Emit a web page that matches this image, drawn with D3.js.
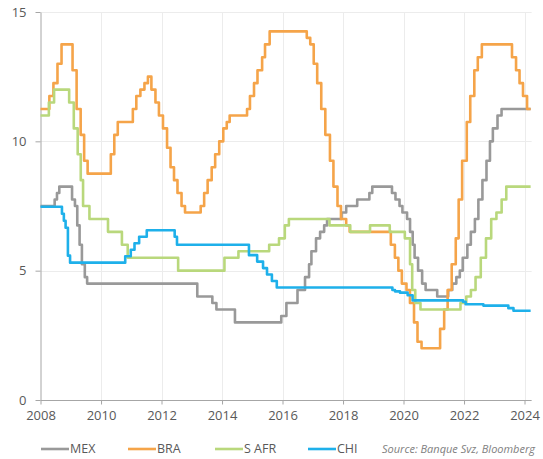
<!DOCTYPE html>
<html>
<head>
<meta charset="utf-8">
<script src="https://cdn.jsdelivr.net/npm/d3@7"></script>
<style>
  body { margin: 0; background: #fff; }
  text { font-family: "Open Sans", sans-serif; }
</style>
</head>
<body>
<svg id="chart" width="543" height="459"></svg>
<script>
const seriesNames = ["MEX", "BRA", "S AFR", "CHI"];
const seriesColors = ["#999999", "#f5a449", "#b9d87c", "#1eb0ea"];
const endDate = "2024-03-15";

const mex = [
  ["2008-01-01", 7.5], ["2008-06-20", 7.75], ["2008-07-18", 8.0], ["2008-08-15", 8.25],
  ["2009-01-16", 7.75], ["2009-02-20", 7.5], ["2009-03-20", 6.75], ["2009-04-17", 6.0],
  ["2009-05-15", 5.25], ["2009-06-19", 4.75], ["2009-07-17", 4.5], ["2013-03-08", 4.0],
  ["2013-09-06", 3.75], ["2013-10-25", 3.5], ["2014-06-06", 3.0], ["2015-12-17", 3.25],
  ["2016-02-17", 3.75], ["2016-06-30", 4.25], ["2016-09-29", 4.75], ["2016-11-17", 5.25],
  ["2016-12-15", 5.75], ["2017-02-09", 6.25], ["2017-03-30", 6.5], ["2017-05-18", 6.75],
  ["2017-06-22", 7.0], ["2017-12-14", 7.25], ["2018-02-08", 7.5], ["2018-06-21", 7.75],
  ["2018-11-15", 8.0], ["2018-12-20", 8.25], ["2019-08-15", 8.0], ["2019-09-26", 7.75],
  ["2019-11-14", 7.5], ["2019-12-19", 7.25], ["2020-02-13", 7.0], ["2020-03-20", 6.5],
  ["2020-04-21", 6.0], ["2020-05-14", 5.5], ["2020-06-25", 5.0], ["2020-08-13", 4.5],
  ["2020-09-24", 4.25], ["2021-02-11", 4.0], ["2021-06-24", 4.25], ["2021-08-12", 4.5],
  ["2021-09-30", 4.75], ["2021-11-11", 5.0], ["2021-12-16", 5.5], ["2022-02-10", 6.0],
  ["2022-03-24", 6.5], ["2022-05-12", 7.0], ["2022-06-23", 7.75], ["2022-08-11", 8.5],
  ["2022-09-29", 9.25], ["2022-11-10", 10.0], ["2022-12-15", 10.5], ["2023-02-09", 11.0],
  ["2023-03-30", 11.25]
];

const bra = [
  ["2008-01-01", 11.25], ["2008-04-17", 11.75], ["2008-06-05", 12.25], ["2008-07-24", 13.0],
  ["2008-09-11", 13.75], ["2009-01-22", 12.75], ["2009-03-12", 11.25], ["2009-04-30", 10.25],
  ["2009-06-11", 9.25], ["2009-07-23", 8.75], ["2010-04-29", 9.5], ["2010-06-10", 10.25],
  ["2010-07-22", 10.75], ["2011-01-20", 11.25], ["2011-03-03", 11.75], ["2011-04-21", 12.0],
  ["2011-06-09", 12.25], ["2011-07-21", 12.5], ["2011-09-01", 12.0], ["2011-10-20", 11.5],
  ["2011-12-01", 11.0], ["2012-01-19", 10.5], ["2012-03-08", 9.75], ["2012-04-19", 9.0],
  ["2012-05-31", 8.5], ["2012-07-12", 8.0], ["2012-08-30", 7.5], ["2012-10-11", 7.25],
  ["2013-04-18", 7.5], ["2013-05-30", 8.0], ["2013-07-11", 8.5], ["2013-08-29", 9.0],
  ["2013-10-10", 9.5], ["2013-11-28", 10.0], ["2014-01-16", 10.5], ["2014-02-27", 10.75],
  ["2014-04-03", 11.0], ["2014-10-30", 11.25], ["2014-12-04", 11.75], ["2015-01-22", 12.25],
  ["2015-03-05", 12.75], ["2015-04-30", 13.25], ["2015-06-04", 13.75], ["2015-07-30", 14.25],
  ["2016-10-20", 14.0], ["2016-12-01", 13.75], ["2017-01-12", 13.0], ["2017-02-23", 12.25],
  ["2017-04-13", 11.25], ["2017-06-01", 10.25], ["2017-07-27", 9.25], ["2017-09-07", 8.25],
  ["2017-10-26", 7.5], ["2017-12-07", 7.0], ["2018-02-08", 6.75], ["2018-03-22", 6.5],
  ["2019-08-01", 6.0], ["2019-09-19", 5.5], ["2019-10-31", 5.0], ["2019-12-12", 4.5],
  ["2020-02-06", 4.25], ["2020-03-19", 3.75], ["2020-05-07", 3.0], ["2020-06-18", 2.25],
  ["2020-08-06", 2.0], ["2021-03-18", 2.75], ["2021-05-06", 3.5], ["2021-06-17", 4.25],
  ["2021-08-05", 5.25], ["2021-09-23", 6.25], ["2021-10-28", 7.75], ["2021-12-09", 9.25],
  ["2022-02-03", 10.75], ["2022-03-17", 11.75], ["2022-05-05", 12.75], ["2022-06-16", 13.25],
  ["2022-08-04", 13.75], ["2023-08-03", 13.25], ["2023-09-21", 12.75], ["2023-11-02", 12.25],
  ["2023-12-14", 11.75], ["2024-02-01", 11.25]
];

const safr = [
  ["2008-01-01", 11.0], ["2008-04-11", 11.5], ["2008-06-13", 12.0], ["2008-12-12", 11.5],
  ["2009-02-06", 10.5], ["2009-03-25", 9.5], ["2009-05-01", 8.5], ["2009-05-29", 7.5],
  ["2009-08-14", 7.0], ["2010-03-26", 6.5], ["2010-09-10", 6.0], ["2010-11-19", 5.5],
  ["2012-07-20", 5.0], ["2014-01-30", 5.5], ["2014-07-18", 5.75], ["2015-07-24", 6.0],
  ["2015-11-20", 6.25], ["2016-01-29", 6.75], ["2016-03-18", 7.0], ["2017-07-21", 6.75],
  ["2018-03-29", 6.5], ["2018-11-23", 6.75], ["2019-07-19", 6.5], ["2020-01-17", 6.25],
  ["2020-03-20", 5.25], ["2020-04-15", 4.25], ["2020-05-22", 3.75], ["2020-07-24", 3.5],
  ["2021-11-19", 3.75], ["2022-01-28", 4.0], ["2022-03-25", 4.25], ["2022-05-20", 4.75],
  ["2022-07-22", 5.5], ["2022-09-23", 6.25], ["2022-11-25", 7.0], ["2023-01-27", 7.25],
  ["2023-03-31", 7.75], ["2023-05-26", 8.25]
];

const chi = [
  ["2008-01-01", 7.47], ["2008-09-16", 7.2], ["2008-10-09", 6.93], ["2008-10-30", 6.66],
  ["2008-11-27", 5.58], ["2008-12-23", 5.31], ["2010-10-20", 5.56], ["2010-12-26", 5.81],
  ["2011-02-09", 6.06], ["2011-04-06", 6.31], ["2011-07-07", 6.56], ["2012-06-08", 6.31],
  ["2012-07-06", 6.0], ["2014-11-22", 5.6], ["2015-03-01", 5.35], ["2015-05-11", 5.1],
  ["2015-06-28", 4.85], ["2015-08-26", 4.6], ["2015-10-24", 4.35], ["2019-08-20", 4.25],
  ["2019-09-20", 4.2], ["2019-11-20", 4.15], ["2020-02-20", 4.05], ["2020-04-20", 3.85],
  ["2021-12-20", 3.8], ["2022-01-20", 3.7], ["2022-08-22", 3.65], ["2023-06-20", 3.55],
  ["2023-08-21", 3.45]
];

const yTicks = [0, 5, 10, 15];
const xTickYears = [2008, 2010, 2012, 2014, 2016, 2018, 2020, 2022, 2024];
const sourceText = "Source: Banque Svz, Bloomberg";

const parse = d3.timeParse("%Y-%m-%d");
const series = [mex, bra, safr, chi].map((rows, i) => {
  const pts = rows.map(([d, v]) => ({date: parse(d), value: v}));
  pts.push({date: parse(endDate), value: rows[rows.length - 1][1]});
  return {name: seriesNames[i], color: seriesColors[i], points: pts};
});

const svg = d3.select("#chart");

const x = d3.scaleTime()
  .domain([new Date(2008, 0, 1), new Date(2024, 0, 1)])
  .range([40.5, 524.5]);

const y = d3.scaleLinear()
  .domain([0, 15])
  .range([400, 12]);

const xRight = x(parse(endDate)) + 1;

// grid
svg.append("g")
  .selectAll("line")
  .data(yTicks.filter(d => d > 0))
  .join("line")
  .attr("x1", 40.5).attr("x2", xRight)
  .attr("y1", d => Math.round(y(d)) + 0.5).attr("y2", d => Math.round(y(d)) + 0.5)
  .attr("stroke", "#ececec");

svg.append("g")
  .selectAll("line")
  .data(xTickYears.slice(1))
  .join("line")
  .attr("x1", d => Math.round(x(new Date(d, 0, 1))) + 0.5)
  .attr("x2", d => Math.round(x(new Date(d, 0, 1))) + 0.5)
  .attr("y1", 12).attr("y2", 400)
  .attr("stroke", "#ececec");

// axes
const xAxis = svg.append("g")
  .attr("transform", "translate(0,400.5)")
  .call(d3.axisBottom(x)
    .tickValues(xTickYears.map(d => new Date(d, 0, 1)))
    .tickFormat(d3.timeFormat("%Y"))
    .tickSizeInner(4)
    .tickSizeOuter(0)
    .tickPadding(6));
xAxis.select(".domain").attr("d", `M40.5,0H${xRight}`);

const yAxis = svg.append("g")
  .attr("transform", "translate(40.5,0)")
  .call(d3.axisLeft(y)
    .tickValues(yTicks)
    .tickSizeInner(5)
    .tickSizeOuter(0)
    .tickPadding(9));

[xAxis, yAxis].forEach(g => {
  g.selectAll(".domain, .tick line").attr("stroke", "#a6a6a6");
  g.selectAll("text")
    .attr("fill", "#595959")
    .style("font-size", "13px")
    .style("font-family", "'Open Sans', sans-serif");
});

// lines
const line = d3.line()
  .x(d => x(d.date))
  .y(d => y(d.value))
  .curve(d3.curveStepAfter);

svg.append("g")
  .selectAll("path")
  .data(series)
  .join("path")
  .attr("d", d => line(d.points))
  .attr("fill", "none")
  .attr("stroke", d => d.color)
  .attr("stroke-width", 2.6)
  .attr("stroke-linejoin", "round");

// legend
const legendX = [41, 128, 215, 308];
const legend = svg.append("g")
  .selectAll("g")
  .data(series)
  .join("g")
  .attr("transform", (d, i) => `translate(${legendX[i]},449)`);

legend.append("line")
  .attr("x1", 0).attr("x2", 28)
  .attr("stroke", d => d.color)
  .attr("stroke-width", 2.6);

legend.append("text")
  .attr("x", 29)
  .attr("dy", "0.35em")
  .attr("fill", "#595959")
  .style("font-size", "12.5px")
  .text(d => d.name);

svg.append("text")
  .attr("x", 382)
  .attr("y", 453)
  .attr("fill", "#808080")
  .style("font-size", "11px")
  .style("font-style", "italic")
  .text(sourceText);
</script>
</body>
</html>
